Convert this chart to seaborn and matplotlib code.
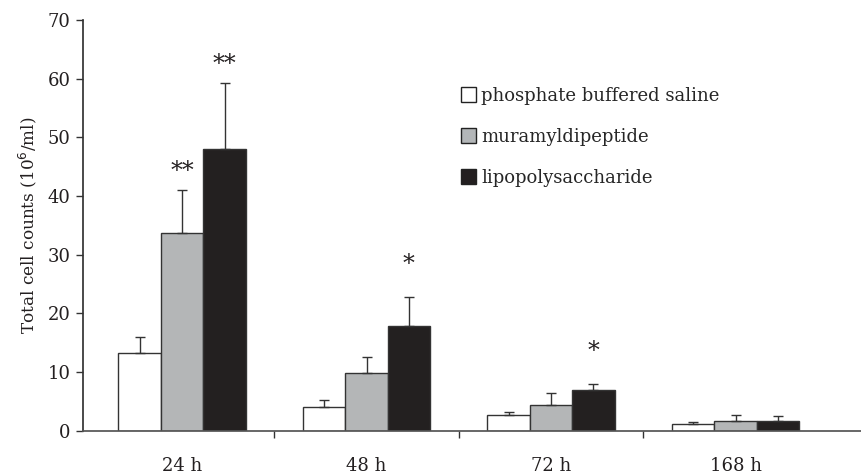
import matplotlib
matplotlib.use("Agg")
import matplotlib.pyplot as plt
import seaborn as sns
import pandas as pd
from matplotlib.patches import Patch

times = ["24 h", "48 h", "72 h", "168 h"]
groups = ["phosphate buffered saline", "muramyldipeptide", "lipopolysaccharide"]
means = {
    "phosphate buffered saline": [13.3, 4.1, 2.7, 1.1],
    "muramyldipeptide": [33.7, 9.8, 4.3, 1.7],
    "lipopolysaccharide": [48.0, 17.9, 6.9, 1.6],
}
errors = {
    "phosphate buffered saline": [2.6, 1.1, 0.5, 0.3],
    "muramyldipeptide": [7.3, 2.7, 2.1, 0.9],
    "lipopolysaccharide": [11.2, 4.9, 1.1, 0.85],
}
# significance marks: (group, time, label)
marks = [
    ("muramyldipeptide", "24 h", "**"),
    ("lipopolysaccharide", "24 h", "**"),
    ("lipopolysaccharide", "48 h", "*"),
    ("lipopolysaccharide", "72 h", "*"),
]
colors = ["#ffffff", "#b3b6b8", "#231f20"]

sns.set_theme(style="ticks")
plt.rcParams["font.family"] = ["DejaVu Serif"]

rows = []
for g in groups:
    for t, m in zip(times, means[g]):
        rows.append({"time": t, "group": g, "count": m})
df = pd.DataFrame(rows)

fig = plt.figure(figsize=(8.61, 4.75), dpi=100)
ax = fig.add_axes([0.0964, 0.0933, 0.9036, 0.8647])

sns.barplot(data=df, x="time", y="count", hue="group", order=times,
            hue_order=groups, palette=colors, width=0.69, gap=0,
            edgecolor="#333333", linewidth=1.0, errorbar=None,
            legend=False, ax=ax)

for gi, g in enumerate(groups):
    cont = ax.containers[gi]
    for bi, bar in enumerate(cont):
        x = bar.get_x() + bar.get_width() / 2
        h = bar.get_height()
        e = errors[g][bi]
        ax.errorbar([x], [h], yerr=[[0], [e]], fmt="none", ecolor="#333333",
                    elinewidth=1.0, capsize=3.5, capthick=1.0, zorder=1)

for g, t, lab in marks:
    gi = groups.index(g)
    bi = times.index(t)
    bar = ax.containers[gi][bi]
    x = bar.get_x() + bar.get_width() / 2
    top = bar.get_height() + errors[g][bi]
    off = 1.2 if lab == "**" else 3.5
    ax.text(x, top + off, lab, ha="center", va="bottom", fontsize=17,
            color="#231f20")

ax.set_ylim(0, 70)
ax.set_xlim(-0.537, 3.68)
ax.set_yticks(range(0, 71, 10))
ax.tick_params(axis="y", labelsize=13, length=5, width=1, colors="#333333",
               labelcolor="#231f20", pad=4)
ax.set_xticks([0.5, 1.5, 2.5])
ax.set_xticklabels([])
ax.tick_params(axis="x", length=5, width=1, colors="#333333")
for i, t in enumerate(times):
    ax.text(i, -6.1, t, ha="center", va="center", fontsize=13, color="#231f20")

ax.set_xlabel("")
ax.set_ylabel("Total cell counts (10$^6$/ml)", fontsize=12.2, color="#231f20",
              labelpad=6)
sns.despine(ax=ax, top=True, right=True)
ax.spines["left"].set_color("#333333")
ax.spines["bottom"].set_color("#555555")

handles = [Patch(facecolor=c, edgecolor="#222222", linewidth=1.0) for c in colors]
ax.legend(handles, groups, loc="upper left", bbox_to_anchor=(0.535, 0.817),
          bbox_transform=fig.transFigure, frameon=False, fontsize=13,
          handlelength=0.85, handleheight=0.85, handletextpad=0.3,
          labelspacing=1.27, borderaxespad=0, borderpad=0)

fig.savefig("out.png", dpi=100)
